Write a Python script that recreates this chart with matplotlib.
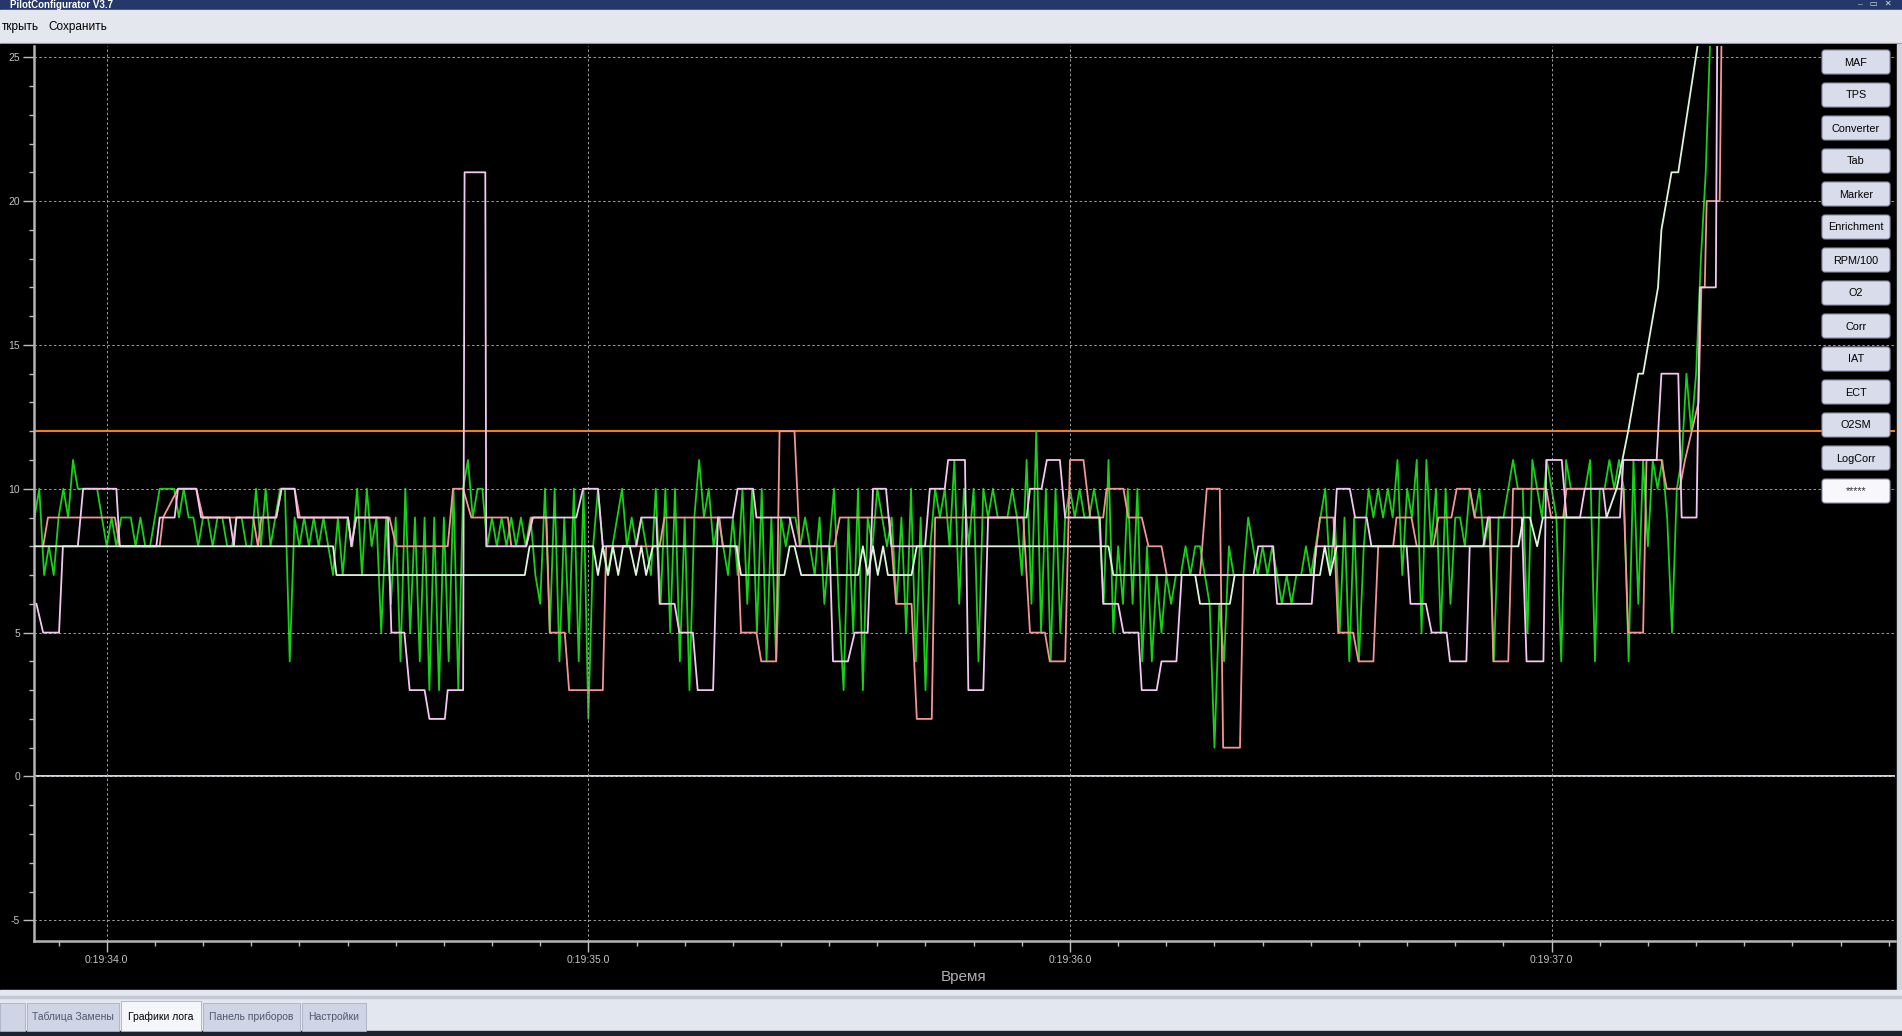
import numpy as np
import matplotlib
matplotlib.use('Agg')
import matplotlib.pyplot as plt
from matplotlib.patches import Rectangle, FancyBboxPatch
from matplotlib.ticker import MultipleLocator, FuncFormatter

plt.rcParams['font.family'] = ['Liberation Sans', 'DejaVu Sans']
plt.rcParams['axes.unicode_minus'] = False

# ---- log data (seconds of 0:19:xx) ----
# green trace, fixed sample step
green_t0 = 33.85
green_dt = 0.01
green_v = [
    9, 10, 7, 8, 7, 9, 10, 9, 11, 10, 10, 10, 10, 10, 9, 8, 9, 8, 9, 9,
    9, 8, 9, 8, 8, 9, 10, 10, 10, 10, 9, 10, 9, 9, 8, 9, 9, 8, 9, 9,
    8, 8, 9, 9, 8, 8, 10, 8, 10, 8, 9, 10, 10, 4, 9, 8, 9, 8, 9, 8,
    9, 8,
    7, 9, 7, 9, 8, 10, 7, 10, 8, 9, 5, 9, 6, 9, 4, 10, 5, 9, 4, 9,
    3, 9, 3, 9, 4, 10, 3, 10, 11, 9, 10, 10, 8, 9, 8, 9, 8, 9, 8, 9,
    8, 9, 7, 6, 10, 5, 10, 4, 9, 5, 10, 4, 10, 2, 8, 10, 8, 7, 8, 9,
    10, 8, 9, 8, 9, 8, 7, 10, 6, 10, 5, 10, 4, 9, 3, 9, 11, 9, 10, 8,
    9, 8, 7, 9, 7, 10, 6, 10, 5, 10, 4, 9, 4, 9, 8, 9, 9, 8, 9, 8,
    7, 9, 6, 8, 10, 6, 3, 9, 5, 10, 3, 9, 8, 10, 9, 8, 9, 6, 9, 5,
    10, 4, 9, 3, 8, 10, 9, 10, 8, 11, 6, 10, 8, 10, 4, 10, 9, 10, 9, 9,
    9, 10, 9, 7, 11, 6, 12, 5, 10, 4, 10, 5, 9, 10, 9, 10, 9, 9, 10, 9,
    6, 11, 5, 8, 6, 10, 6, 10, 4, 8, 4, 7, 5, 7, 6, 7, 7, 8, 7, 8,
    8, 7, 6, 1, 6, 4, 8, 7, 7, 7, 9, 8, 7, 8, 7, 8, 7, 6, 7, 6,
    7, 7, 8, 7, 8, 9, 10, 7, 9, 5, 9, 4, 9, 4, 8, 10, 9, 10, 9, 10,
    9, 11, 7, 10, 9, 11, 5, 11, 8, 10, 5, 10, 6, 9, 9, 8, 10, 9, 10,
    8, 9, 4, 9, 9, 10, 11, 10, 10, 5, 11, 10, 9, 11, 10, 9, 4, 11, 10, 10,
    10, 10, 11, 4, 10, 10, 11, 10, 11, 10, 4, 11, 6, 11, 8, 11, 10, 11, 9, 5,
    10, 11, 14, 12, 14, 18, 21, 26,
]

salmon_t = [
    33.868, 33.878, 34.017, 34.027, 34.110, 34.117, 34.148, 34.186, 34.200, 34.304,
    34.314, 34.321, 34.352, 34.363, 34.390, 34.401, 34.501, 34.508, 34.518, 34.587,
    34.601, 34.708, 34.719, 34.740, 34.757, 34.833, 34.840, 34.871, 34.882, 34.913,
    34.920, 34.951, 34.960, 35.030, 35.037, 35.148, 35.158, 35.272, 35.279, 35.310,
    35.317, 35.349, 35.359, 35.390, 35.397, 35.428, 35.439, 35.511, 35.522, 35.625,
    35.639, 35.671, 35.682, 35.713, 35.720, 35.903, 35.917, 35.948, 35.958, 35.990,
    36.000, 36.028, 36.042, 36.069, 36.076, 36.111, 36.121, 36.149, 36.163, 36.190,
    36.201, 36.270, 36.284, 36.311, 36.318, 36.353, 36.360, 36.505, 36.512, 36.519,
    36.547, 36.557, 36.588, 36.599, 36.630, 36.640, 36.671, 36.678, 36.709, 36.720,
    36.754, 36.765, 36.792, 36.803, 36.830, 36.841, 36.872, 36.879, 36.910, 36.920,
    36.989, 36.999, 37.024, 37.031, 37.149, 37.159, 37.190, 37.197, 37.228, 37.239,
    37.266, 37.277, 37.305, 37.311, 37.318, 37.322, 37.349, 37.353,
]
salmon_v = [
    8, 9, 9, 8, 8, 9, 10, 10, 9, 9,
    8, 9, 9, 10, 10, 9, 9, 8, 9, 9,
    8, 8, 10, 10, 9, 9, 8, 8, 9, 9,
    5, 5, 3, 3, 8, 8, 9, 9, 8, 8,
    5, 5, 4, 4, 12, 12, 8, 8, 9, 9,
    6, 6, 2, 2, 9, 9, 5, 5, 4, 4,
    11, 11, 9, 9, 10, 10, 9, 9, 8, 8,
    7, 7, 10, 10, 1, 1, 7, 7, 8, 9,
    9, 5, 5, 4, 4, 8, 8, 9, 9, 8,
    8, 9, 9, 10, 10, 9, 9, 4, 4, 10,
    10, 9, 9, 10, 10, 5, 5, 11, 11, 10,
    10, 11, 13, 17, 17, 20, 20, 26,
]

lilac_t = [
    33.854, 33.868, 33.901, 33.909, 33.940, 33.951, 34.020, 34.027, 34.103, 34.110,
    34.141, 34.148, 34.186, 34.196, 34.255, 34.264, 34.269, 34.352, 34.363, 34.390,
    34.397, 34.501, 34.508, 34.518, 34.584, 34.591, 34.618, 34.629, 34.660, 34.670,
    34.702, 34.708, 34.740, 34.743, 34.786, 34.788, 34.871, 34.885, 34.975, 34.989,
    35.020, 35.030, 35.099, 35.110, 35.141, 35.148, 35.179, 35.189, 35.217, 35.227,
    35.259, 35.269, 35.300, 35.310, 35.342, 35.349, 35.418, 35.432, 35.501, 35.508,
    35.539, 35.553, 35.580, 35.591, 35.618, 35.629, 35.699, 35.709, 35.740, 35.747,
    35.782, 35.789, 35.820, 35.830, 35.910, 35.917, 35.941, 35.952, 35.979, 35.990,
    36.062, 36.069, 36.100, 36.111, 36.142, 36.149, 36.180, 36.190, 36.221, 36.232,
    36.381, 36.391, 36.422, 36.430, 36.502, 36.511, 36.547, 36.554, 36.581, 36.592,
    36.616, 36.626, 36.699, 36.707, 36.739, 36.751, 36.782, 36.789, 36.823, 36.830,
    36.858, 36.868, 36.938, 36.948, 36.983, 36.989, 37.021, 37.031, 37.059, 37.069,
    37.107, 37.114, 37.142, 37.149, 37.218, 37.228, 37.263, 37.270, 37.301, 37.308,
    37.341, 37.344,
]
lilac_v = [
    6, 5, 5, 8, 8, 10, 10, 8, 8, 9,
    9, 10, 10, 9, 9, 8, 9, 9, 10, 10,
    9, 9, 8, 9, 9, 5, 5, 3, 3, 2,
    2, 3, 3, 21, 21, 8, 8, 9, 9, 10,
    10, 8, 8, 9, 9, 6, 6, 5, 5, 3,
    3, 9, 9, 10, 10, 9, 9, 8, 8, 4,
    4, 5, 5, 10, 10, 8, 8, 10, 10, 11,
    11, 3, 3, 9, 9, 10, 10, 11, 11, 9,
    9, 6, 6, 5, 5, 3, 3, 4, 4, 7,
    7, 8, 8, 6, 6, 8, 8, 10, 10, 9,
    9, 8, 8, 6, 6, 5, 5, 4, 4, 8,
    8, 9, 9, 4, 4, 11, 11, 9, 9, 10,
    10, 9, 9, 11, 11, 14, 14, 9, 9, 17,
    17, 26,
]

mint_t = [
    33.850, 34.470, 34.477, 34.868, 34.878, 35.010, 35.020, 35.030, 35.041, 35.051,
    35.062, 35.072, 35.086, 35.099, 35.110, 35.120, 35.134, 35.307, 35.317, 35.407,
    35.418, 35.428, 35.442, 35.560, 35.570, 35.580, 35.591, 35.601, 35.612, 35.622,
    35.671, 35.682, 36.080, 36.090, 36.260, 36.270, 36.332, 36.342, 36.519, 36.529,
    36.540, 36.554, 36.931, 36.941, 36.955, 36.970, 36.982, 37.114, 37.135, 37.159,
    37.180, 37.190, 37.221, 37.228, 37.249, 37.263, 37.304,
]
mint_v = [
    8, 8, 7, 7, 8, 8, 7, 8, 7, 8,
    7, 8, 8, 7, 8, 7, 8, 8, 7, 7,
    8, 8, 7, 7, 8, 7, 8, 7, 8, 7,
    7, 8, 8, 7, 7, 6, 6, 7, 7, 8,
    7, 8, 8, 9, 9, 8, 9, 9, 10, 12,
    14, 14, 17, 19, 21, 21, 25.5,
]

limit_level = 12
zero_level = 0

buttons = ['MAF', 'TPS', 'Converter', 'Tab', 'Marker', 'Enrichment', 'RPM/100',
           'O2', 'Corr', 'IAT', 'ECT', 'O2SM', 'LogCorr', '*****']
tabs = ['Таблица Замены', 'Графики лога', 'Панель приборов', 'Настройки']


def fmt_time(s, pos):
    whole = int(np.floor(s + 1e-6))
    tenth = int(round((s - whole) * 10)) % 10
    return '0:19:%02d.%d' % (whole, tenth)


W, H = 1902, 1036
fig = plt.figure(figsize=(W / 100, H / 100), dpi=100)
fig.patch.set_facecolor('black')

# window chrome behind the plot (pixel coords)
bg = fig.add_axes([0, 0, 1, 1], zorder=0)
bg.set_xlim(0, W)
bg.set_ylim(H, 0)
bg.axis('off')
bg.add_patch(Rectangle((0, 0), W, 10, color='#26386a'))
bg.add_patch(Rectangle((0, 10), W, 34, color='#e5e7ef'))
bg.add_patch(Rectangle((0, 43), W, 1, color='#b8bcc8'))
bg.add_patch(Rectangle((0, 44), W, 946, color='black'))
bg.add_patch(Rectangle((1897, 44), 5, 946, color='#d0d4dc'))
bg.add_patch(Rectangle((0, 990), W, 41, color='#e3e7ef'))
bg.add_patch(Rectangle((0, 996), W, 1.5, color='#c4c9d6'))
bg.add_patch(Rectangle((0, 1031), W, 5, color='#1c2230'))
bg.text(10, 5.5, 'PilotConfigurator V3.7', color='white', fontsize=7,
        fontweight='bold', va='center', ha='left')
bg.text(1892, 5, '–   ▭   ✕', color='#d8dce8', fontsize=6, va='center', ha='right')
bg.text(2, 27, 'ткрыть', color='black', fontsize=8.5, va='center', ha='left')
bg.text(48, 27, 'Сохранить', color='black', fontsize=8.5, va='center', ha='left')
bg.text(964, 977, 'Время', color='#b0b0b0', fontsize=11, va='center', ha='center')

tab_x = [27, 121, 203, 302]
tab_w = [92, 80, 97, 64]
bg.add_patch(Rectangle((0, 1003), 25, 28, facecolor='#cfd5e4', edgecolor='#aab0c4', lw=0.6))
for i, (name, x, w) in enumerate(zip(tabs, tab_x, tab_w)):
    active = name == 'Графики лога'
    bg.add_patch(Rectangle((x, 1001 if active else 1003), w, 30 if active else 28,
                           facecolor='#f4f6fa' if active else '#cfd5e4',
                           edgecolor='#aab0c4', lw=0.6))
    bg.text(x + w / 2, 1017, name, fontsize=7.5, ha='center', va='center',
            color='black' if active else '#505870')

# plot
ax = fig.add_axes([34 / W, 1 - 941 / H, (1895 - 34) / W, (941 - 46) / H], zorder=2)
ax.set_facecolor('black')

green_t = green_t0 + green_dt * np.arange(len(green_v))
ax.axhline(limit_level, color='#f47c14', lw=1.5, zorder=1.5)
ax.axhline(zero_level, color='#ece6f6', lw=1.3, zorder=1.6)
ax.plot(green_t, green_v, color='#18d018', lw=1.3, zorder=2)
ax.plot(salmon_t, salmon_v, color='#f49494', lw=1.3, zorder=3)
ax.plot(lilac_t, lilac_v, color='#f4c6f2', lw=1.3, zorder=4)
ax.plot(mint_t, mint_v, color='#dcf6dc', lw=1.3, zorder=5)

ax.set_xlim(33.849, 37.713)
ax.set_ylim(-5.72, 25.39)
ax.xaxis.set_major_locator(MultipleLocator(1))
ax.xaxis.set_minor_locator(MultipleLocator(0.1))
ax.yaxis.set_major_locator(MultipleLocator(5))
ax.yaxis.set_minor_locator(MultipleLocator(1))
ax.xaxis.set_major_formatter(FuncFormatter(fmt_time))
ax.tick_params(which='both', colors='#bcbcbc', direction='out', labelsize=7.5,
               labelcolor='#c4c4c4', width=1)
ax.tick_params(which='major', length=8, pad=2)
ax.tick_params(which='minor', length=3.5)
for side in ('top', 'right'):
    ax.spines[side].set_visible(False)
for side in ('left', 'bottom'):
    ax.spines[side].set_color('#b4b4b4')
    ax.spines[side].set_linewidth(1.8)
ax.grid(which='major', color='#a0a0a0', linestyle=(0, (2.5, 2.5)), linewidth=0.7)
ax.set_axisbelow(False)

# buttons over the plot
fg = fig.add_axes([0, 0, 1, 1], zorder=3)
fg.set_xlim(0, W)
fg.set_ylim(H, 0)
fg.axis('off')
fg.patch.set_alpha(0)
for k, name in enumerate(buttons):
    top = 50 + 33 * k
    last = name == '*****'
    fg.add_patch(FancyBboxPatch((1822, top), 68, 24,
                                boxstyle='round,pad=0,rounding_size=3',
                                facecolor='#f8f8fc' if last else '#d9dcea',
                                edgecolor='#8c90a8', lw=0.8))
    fg.text(1856, top + 12.5, name, fontsize=7.8, ha='center', va='center',
            color='#303030' if last else 'black')

fig.savefig('out.png', dpi=100, facecolor=fig.get_facecolor())
